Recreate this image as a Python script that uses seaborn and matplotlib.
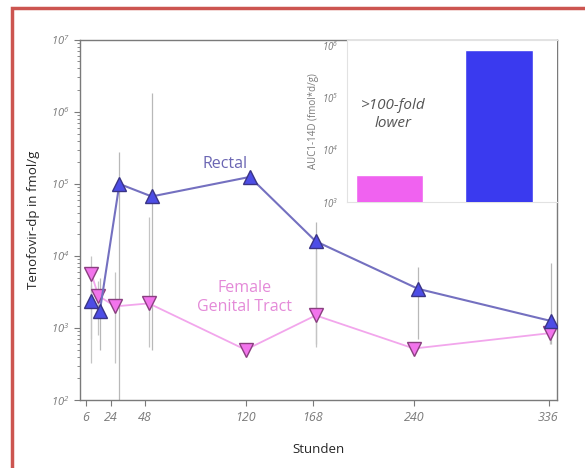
import numpy as np
import pandas as pd
import seaborn as sns
import matplotlib.pyplot as plt
from matplotlib.patches import Rectangle
from matplotlib.ticker import LogLocator, NullFormatter

# Rectal tissue (hours, fmol/g, error bar low/high)
rectal_h = [10, 16, 30, 53, 123, 170, 243, 338]
rectal_v = [2400, 1700, 100000, 67000, 125000, 16000, 3500, 1250]
rectal_lo = [700, 500, 100, 500, 105000, 600, 700, 600]
rectal_hi = [4000, 5000, 280000, 1800000, 150000, 30000, 7000, 8000]

# Female genital tract
fgt_h = [10, 15, 27, 51, 120, 170, 240, 337]
fgt_v = [5700, 2800, 2000, 2200, 500, 1500, 520, 850]
fgt_lo = [330, 800, 330, 550, 500, 550, 520, 600]
fgt_hi = [10000, 4500, 6000, 35000, 500, 12000, 520, 1200]

x_ticks = [6, 24, 48, 120, 168, 240, 336]

# inset: AUC over 14 days
auc_groups = ["FGT", "Rectal"]
auc_values = [3300, 800000]

rect_line = "#7470c0"
rect_fill = "#4d4de6"
rect_edge = "#3a3485"
fgt_line = "#f2a6ec"
fgt_fill = "#f274ec"
fgt_edge = "#8a3f80"
grey = "#7a7a7a"

sns.set_style("white")
plt.rcParams["font.family"] = ["Open Sans", "DejaVu Sans"]

fig = plt.figure(figsize=(5.85, 4.68), dpi=100)
ax = fig.add_axes([0.137, 0.145, 0.815, 0.77])

# error bars
ax.vlines(rectal_h, rectal_lo, rectal_hi, color="#b8b8b8", lw=0.9, zorder=1)
ax.vlines(fgt_h, fgt_lo, fgt_hi, color="#c4c4c4", lw=0.9, zorder=1)

df_r = pd.DataFrame({"h": rectal_h, "v": rectal_v})
df_f = pd.DataFrame({"h": fgt_h, "v": fgt_v})
sns.lineplot(data=df_f, x="h", y="v", ax=ax, color=fgt_line, lw=1.3,
             marker="v", markersize=10, markerfacecolor=fgt_fill,
             markeredgecolor=fgt_edge, markeredgewidth=1.0, sort=False, zorder=3)
sns.lineplot(data=df_r, x="h", y="v", ax=ax, color=rect_line, lw=1.5,
             marker="^", markersize=10, markerfacecolor=rect_fill,
             markeredgecolor=rect_edge, markeredgewidth=1.0, sort=False, zorder=4)

ax.set_yscale("log")
ax.set_ylim(1e2, 1e7)
ax.set_xlim(2, 342)
ax.set_xticks(x_ticks)
ax.set_xticklabels([str(t) for t in x_ticks], color=grey, fontsize=9, style="italic")
ax.yaxis.set_major_locator(LogLocator(base=10, numticks=10))
ax.yaxis.set_minor_locator(LogLocator(base=10, subs=np.arange(2, 10), numticks=10))
ax.yaxis.set_minor_formatter(NullFormatter())
ax.tick_params(axis="y", which="major", labelsize=8, labelcolor=grey, length=4,
               color=grey, direction="out", left=True)
ax.tick_params(axis="y", which="minor", length=2, color=grey, direction="out", left=True)
ax.tick_params(axis="x", length=4, color=grey, direction="out", bottom=True)
for lbl in ax.get_yticklabels():
    lbl.set_style("italic")
for sp in ax.spines.values():
    sp.set_color(grey)
    sp.set_linewidth(1.0)

ax.set_xlabel("Stunden", fontsize=9.5, labelpad=14)
ax.set_ylabel("Tenofovir-dp in fmol/g", fontsize=9.5, labelpad=8)

ax.text(0.305, 0.655, "Rectal", transform=ax.transAxes, color="#6b66b3",
        fontsize=11.5, ha="center", va="center")
ax.text(0.345, 0.285, "Female\nGenital Tract", transform=ax.transAxes, color="#e48ad8",
        fontsize=11.5, ha="center", va="center", linespacing=1.2)

# inset bar chart
ins = fig.add_axes([0.593, 0.568, 0.359, 0.346])
ins.set_facecolor("white")
sns.barplot(x=auc_groups, y=auc_values, hue=auc_groups, palette=["#f062f0", "#3a3aef"],
            saturation=1, width=0.62, legend=False, ax=ins, zorder=5)
ins.set_yscale("log")
ins.set_ylim(1e3, 1.25e6)
ins.set_xlim(-0.39, 1.53)
ins.set_xticks([])
ins.set_xlabel("")
ins.yaxis.set_major_locator(LogLocator(base=10, numticks=10))
ins.yaxis.set_minor_locator(LogLocator(base=10, subs=[], numticks=10))
ins.tick_params(axis="y", labelsize=7, labelcolor=grey, length=0, pad=6)
for lbl in ins.get_yticklabels():
    lbl.set_style("italic")
ins.set_ylabel("AUC1-14D (fmol*d/g)", fontsize=7, color=grey, labelpad=2)
for sp in ins.spines.values():
    sp.set_color("#e2e2e2")
    sp.set_linewidth(0.8)
ins.spines["right"].set_visible(False)
ins.text(0.22, 0.54, ">100-fold\nlower", transform=ins.transAxes, fontsize=11,
         style="italic", color="#555555", ha="center", va="center", linespacing=1.3)

# red frame (cropped at right and bottom)
fig.patches.append(Rectangle((12 / 585, -0.2), 1.5, 1.2 - 8 / 468, fill=False,
                             edgecolor="#cc5550", lw=2.5, transform=fig.transFigure))

fig.savefig("out.png", dpi=100)
